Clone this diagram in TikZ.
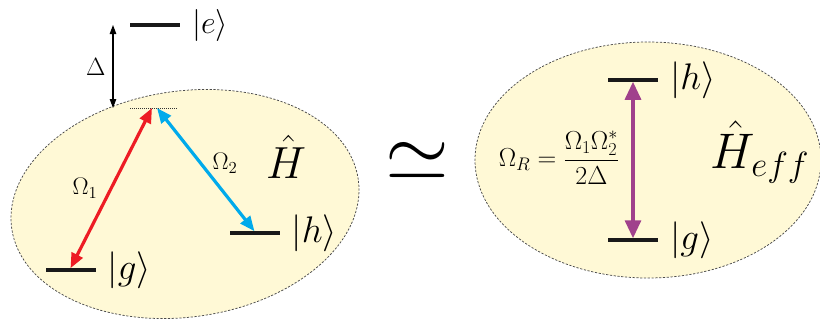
\RequirePackage{fix-cm}
\documentclass[tikz,border=0pt]{standalone}
\usepackage{amsmath}
\usetikzlibrary{arrows.meta,positioning,shapes.geometric}
\definecolor{laserred}{RGB}{237, 28, 36}
\definecolor{laserblue}{RGB}{0, 170, 235}
\definecolor{ramanpurple}{RGB}{160, 65, 140}
\definecolor{blobyellow}{RGB}{255, 249, 214}

\begin{document}
\begin{tikzpicture}[
    x=1pt, y=-1pt,
    blob/.style={
        ellipse, draw=black!70, fill=blobyellow, line width=0.75pt,
        dash pattern=on 2.2pt off 1.6pt, inner sep=0pt
    },
    level/.style={
        rectangle, fill=black!90, minimum width=50pt,
        minimum height=3.5pt, inner sep=0pt, outer sep=0pt
    },
    ket/.style={inner sep=0pt, font=\fontsize{37}{40}\selectfont},
    rabi/.style={inner sep=0pt, font=\fontsize{24}{26}\selectfont},
    virtual/.style={draw=black!80, line width=0.8pt, dash pattern=on 1pt off 1pt},
    pump/.style={draw=#1, line width=3.2pt, {Triangle[length=15pt, width=12pt]}-{Triangle[length=15pt, width=12pt]}},
    raman/.style={draw=ramanpurple, line width=3.2pt, {Triangle[length=18pt, width=16pt]}-{Triangle[length=18pt, width=16pt]}},
    gapline/.style={draw=black, line width=1.1pt, {Triangle[length=9pt, width=6.5pt]}-{Triangle[length=9pt, width=6.5pt]}}
]
    \useasboundingbox (0,0) rectangle (820,324);
    \node[blob, minimum width=350pt, minimum height=226pt, rotate=8] (lhs) at (185,204) {};
    \node[blob, minimum width=346pt, minimum height=236pt] (rhs) at (648,160) {};

    % three-level system
    \node[level] (e) at (155,25) {};
    \node[ket, font=\fontsize{32}{34}\selectfont, right=12pt of e] (eket) {$|e\rangle$};
    \coordinate (v) at (154,108);
    \draw[virtual] ([xshift=-24pt]v) -- ([xshift=24pt]v);
    \node[level] (g) at (70.5,270) {};
    \node[ket, right=12pt of g] (gket) {$|g\rangle$};
    \node[level] (h) at (254.5,233) {};
    \node[ket, right=12pt of h] (hket) {$|h\rangle$};

    \draw[gapline] ([xshift=-17pt]e.west) -- ([xshift=-41pt]v)
        node[midway, left=7pt, inner sep=0pt, font=\fontsize{25}{27}\selectfont] (delta) {$\Delta$};
    \draw[pump=laserred] (g.north) -- ([xshift=-2pt]v);
    \draw[pump=laserblue] ([xshift=3pt]v) -- (h.north);
    \node[rabi] (om1) at (85,188) {$\Omega_1$};
    \node[rabi] (om2) at (225,163) {$\Omega_2$};
    \node[font=\fontsize{45}{47}\selectfont] (Hfull) at (286,157) {$\hat{H}$};

    \node[font=\fontsize{82}{84}\selectfont] (approx) at (417,161) {$\simeq$};

    % effective two-level system
    \node[level] (rh) at (633,80) {};
    \node[ket, right=12pt of rh] (rhket) {$|h\rangle$};
    \node[level] (rg) at (633,240) {};
    \node[ket, right=12pt of rg] (rgket) {$|g\rangle$};
    \draw[raman] (rg.north) -- (rh.south);
    \node[rabi, font=\fontsize{26}{28}\selectfont] (omR) at (559,158) {$\Omega_R = \dfrac{\Omega_1\Omega_2^*}{2\Delta}$};
    \node[font=\fontsize{50}{52}\selectfont] (Heff) at (760,152) {$\hat{H}_{eff}$};
\end{tikzpicture}
\end{document}
